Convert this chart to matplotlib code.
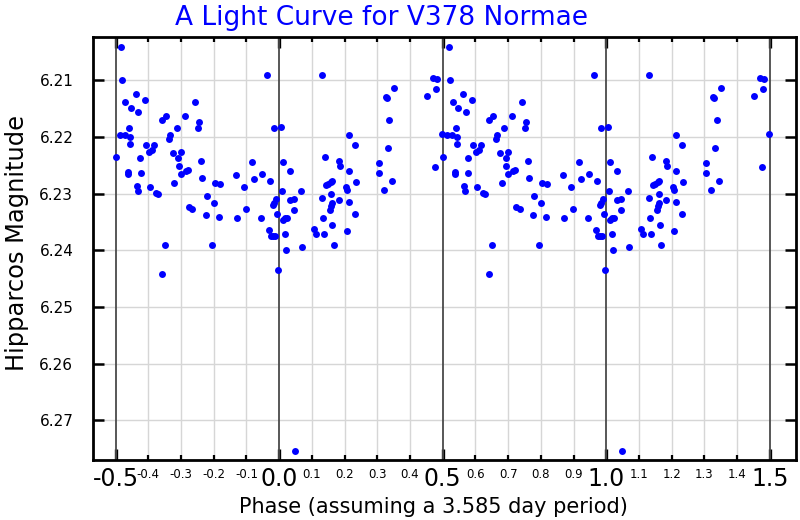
import matplotlib
matplotlib.use("Agg")
import matplotlib.pyplot as plt
import numpy as np

# Phase (one cycle, -0.5..0.5) and Hipparcos magnitude
phase = [0.514, 0.528, 0.518, 0.521, 0.502, 0.530, 0.546, 0.563, 0.589, 0.570,
         0.540, 0.543, 0.543, 0.537, 0.539, 0.576, 0.578, 0.566, 0.567, 0.592,
         0.601, 0.610, 0.617, 0.605, 0.624, 0.630, 0.643, 0.655, 0.665, 0.663,
         0.688, 0.676, 0.692, 0.701, 0.694, 0.700, 0.714, 0.722, 0.680, 0.712,
         0.743, 0.755, 0.752, 0.761, 0.765, 0.650, 0.643, 0.724, 0.735, 0.775,
         0.780, 0.800, 0.804, 0.820, 0.816, 0.795, 0.868, 0.893, 0.899, 0.872,
         0.918, 0.922, 0.947, 0.962, 0.973, 0.944, 0.984, 1.006, 0.990, 0.985,
         0.982, 0.992, 0.969, 0.974, 0.981, 0.988, 0.995, 1.008, 1.012, 1.033,
         1.011, 1.018, 1.023, 1.018, 1.020, 1.034, 1.046, 1.044, 1.067, 1.071,
         1.047, 1.132, 1.140, 1.184, 1.186, 1.212, 1.214, 1.233, 1.235, 1.143,
         1.150, 1.159, 1.162, 1.160, 1.131, 1.161, 1.158, 1.155, 1.182, 1.135,
         1.107, 1.112, 1.137, 1.163, 1.167, 1.203, 1.207, 1.212, 1.232, 1.208,
         1.305, 1.304, 1.320, 1.326, 1.330, 1.350, 1.337, 1.333, 1.346, 1.451,
         1.471, 1.483, 1.478, 1.476, 1.498]
magnitude = [6.2196, 6.2197, 6.2042, 6.2099, 6.2236, 6.2139, 6.2149, 6.2124, 6.2135, 6.2156,
             6.2185, 6.2201, 6.2213, 6.2266, 6.2262, 6.2238, 6.2264, 6.2286, 6.2295, 6.2215,
             6.2226, 6.2224, 6.2214, 6.2288, 6.2299, 6.2300, 6.2171, 6.2164, 6.2196, 6.2203,
             6.2185, 6.2229, 6.2237, 6.2226, 6.2251, 6.2265, 6.2261, 6.2258, 6.2282, 6.2164,
             6.2139, 6.2173, 6.2184, 6.2242, 6.2272, 6.2390, 6.2442, 6.2323, 6.2328, 6.2338,
             6.2304, 6.2316, 6.2281, 6.2284, 6.2342, 6.2390, 6.2268, 6.2288, 6.2328, 6.2344,
             6.2244, 6.2274, 6.2266, 6.2091, 6.2277, 6.2344, 6.2185, 6.2182, 6.2310, 6.2316,
             6.2320, 6.2336, 6.2365, 6.2375, 6.2375, 6.2375, 6.2435, 6.2295, 6.2244, 6.2261,
             6.2346, 6.2344, 6.2344, 6.2372, 6.2400, 6.2311, 6.2309, 6.2329, 6.2296, 6.2395,
             6.2754, 6.2091, 6.2236, 6.2242, 6.2251, 6.2261, 6.2196, 6.2215, 6.2280, 6.2285,
             6.2284, 6.2280, 6.2278, 6.2300, 6.2307, 6.2316, 6.2322, 6.2329, 6.2311, 6.2344,
             6.2362, 6.2372, 6.2371, 6.2355, 6.2390, 6.2289, 6.2294, 6.2315, 6.2336, 6.2366,
             6.2246, 6.2264, 6.2294, 6.2129, 6.2131, 6.2113, 6.2171, 6.2219, 6.2277, 6.2128,
             6.2096, 6.2098, 6.2116, 6.2254, 6.2195]

period_days = "3.585"
major_ticks = [-0.5, 0.0, 0.5, 1.0, 1.5]
major_labels = ["-0.5", "0.0", "0.5", "1.0", "1.5"]
minor_ticks = [-0.4, -0.3, -0.2, -0.1, 0.1, 0.2, 0.3, 0.4, 0.6, 0.7, 0.8, 0.9,
               1.1, 1.2, 1.3, 1.4]
minor_labels = ["-0.4", "-0.3", "-0.2", "-0.1", "0.1", "0.2", "0.3", "0.4",
                "0.6", "0.7", "0.8", "0.9", "1.1", "1.2", "1.3", "1.4"]
y_ticks = [6.21, 6.22, 6.23, 6.24, 6.25, 6.26, 6.27]
y_labels = ["6.21", "6.22", "6.23", "6.24", "6.25", "6.26", "6.27"]

plt.rcParams['font.family'] = ['DejaVu Sans']

W, H = 800, 520
fig = plt.figure(figsize=(8, 5.2), dpi=100)
ax = fig.add_axes([92.7 / W, 1 - 460 / H, (796 - 92.7) / W, (460 - 36.5) / H])

base = np.array(phase) - 1.0
mags = np.array(magnitude)
ax.plot(base, mags, 'o', color='#0000ff', markersize=5.0, markeredgewidth=0, zorder=3)
ax.plot(base + 1.0, mags, 'o', color='#0000ff', markersize=5.0, markeredgewidth=0, zorder=3)

ax.set_xlim(-0.57, 1.58)
ax.set_ylim(6.277, 6.2023)

# grid
for xv in minor_ticks:
    ax.axvline(xv, color='#d6d6d6', lw=1.0, zorder=1)
for yv in y_ticks:
    ax.axhline(yv, color='#d6d6d6', lw=1.0, zorder=1)
for xv in major_ticks:
    ax.axvline(xv, color='#4a4a4a', lw=1.3, zorder=2)

ax.set_xticks(major_ticks)
ax.set_xticklabels(major_labels, fontsize=17)
ax.set_xticks(minor_ticks, minor=True)
ax.set_xticklabels(minor_labels, minor=True, fontsize=8.5)
ax.set_yticks(y_ticks)
ax.set_yticklabels(y_labels, fontsize=11)

ax.tick_params(axis='x', which='major', direction='in', length=8, width=2.4,
               top=True, bottom=True, pad=5, colors='black')
ax.tick_params(axis='x', which='minor', direction='in', length=3.5, width=1.6,
               top=True, bottom=True, pad=6)
ax.tick_params(axis='y', which='major', direction='in', length=8, width=1.8,
               left=True, right=True, pad=14)

for s in ax.spines.values():
    s.set_linewidth(2.0)
    s.set_color('black')

fig.text(381.5 / W, 1 - 18 / H, "A Light Curve for V378 Normae", color='#0000ff',
         fontsize=19, ha='center', va='center')
fig.text(17 / W, 1 - 243 / H, "Hipparcos Magnitude", rotation=90, fontsize=17.4,
         ha='center', va='center')
fig.text(433 / W, 1 - 507 / H, "Phase (assuming a %s day period)" % period_days,
         fontsize=15, ha='center', va='center')

fig.savefig("out.png", dpi=100)
